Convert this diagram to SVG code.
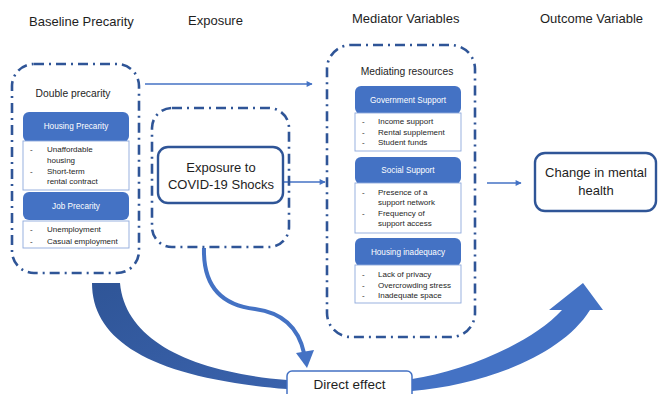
<svg xmlns="http://www.w3.org/2000/svg" width="658" height="394" viewBox="0 0 658 394">
<defs>
<style>
text{font-family:"Liberation Sans",Arial,sans-serif;fill:#1e1e1e}
.h{font-size:13px}
.dash{fill:none;stroke:#2F5597;stroke-width:2.6;stroke-dasharray:10 5 2 5}
.hdr{fill:#4472C4}
.hdrt{fill:#ffffff;font-size:8.2px;text-anchor:middle}
.lst{fill:#ffffff;stroke:#8EA9DB;stroke-width:0.9}
.li{font-size:8px}
.ttl{font-size:10.3px;text-anchor:middle}
.big{font-size:13px;text-anchor:middle}
.conn{stroke:#4472C4;stroke-width:1.3;fill:none}
</style>
<marker id="ah" viewBox="0 0 10 10" refX="9" refY="5" markerWidth="7" markerHeight="6" orient="auto" markerUnits="userSpaceOnUse">
<path d="M0,0 L10,5 L0,10 Z" fill="#4472C4"/>
</marker>
<linearGradient id="gl" x1="0" y1="0" x2="1" y2="1">
<stop offset="0" stop-color="#2F5597"/>
<stop offset="1" stop-color="#3A62AC"/>
</linearGradient>
</defs>
<rect width="658" height="394" fill="#ffffff"/>

<g id="headings">
<text class="h" x="29" y="25.5">Baseline Precarity</text>
<text class="h" x="188" y="25">Exposure</text>
<text class="h" x="352" y="22.5">Mediator Variables</text>
<text class="h" x="540" y="22.5">Outcome Variable</text>
</g>

<g id="connectors">
<line class="conn" x1="145" y1="84" x2="312" y2="84" marker-end="url(#ah)"/>
<line class="conn" x1="284" y1="182" x2="325" y2="182" marker-end="url(#ah)"/>
<line class="conn" x1="487" y1="183" x2="521" y2="183" marker-end="url(#ah)"/>
<path d="M92,283 C92,340 150,378 287,389 L287,380 C190,372 125,340 120,283 Z" fill="url(#gl)"/>
<path d="M204,248 C203,285 220,305 255,309 C285,313 299,330 304,353" fill="none" stroke="#4472C4" stroke-width="4"/>
<polygon points="307,368 296,353 314,350" fill="#4472C4"/>
<path d="M412,379 C460,372 530,345 562,310 L549,310 L583,283 L603,310 L590,310 C560,358 480,385 412,391 Z" fill="#4472C4"/>
</g>

<g id="baseline-precarity">
<rect class="dash" x="12" y="64" width="127" height="209" rx="22"/>
<text class="ttl" x="73" y="96.5">Double precarity</text>
<rect class="hdr" x="23" y="112" width="106" height="30" rx="6"/>
<text class="hdrt" x="76" y="129">Housing Precarity</text>
<rect class="lst" x="23" y="141" width="106" height="49"/>
<text class="li" x="30" y="152">-</text>
<text class="li" x="47" y="152">Unaffordable</text>
<text class="li" x="47" y="163">housing</text>
<text class="li" x="30" y="174">-</text>
<text class="li" x="47" y="174">Short-term</text>
<text class="li" x="47" y="184">rental contract</text>
<rect class="hdr" x="23" y="192" width="106" height="28" rx="6"/>
<text class="hdrt" x="76" y="209">Job Precarity</text>
<rect class="lst" x="23" y="221" width="106" height="27"/>
<text class="li" x="30" y="232">-</text>
<text class="li" x="47" y="232">Unemployment</text>
<text class="li" x="30" y="244">-</text>
<text class="li" x="47" y="244">Casual employment</text>
</g>

<g id="exposure">
<rect class="dash" x="152" y="108" width="137" height="139" rx="20"/>
<rect x="158" y="147" width="125" height="56" rx="10" fill="#ffffff" stroke="#2F5597" stroke-width="2.4"/>
<text class="big" x="221" y="171.5">Exposure to</text>
<text class="big" x="221" y="188.5">COVID-19 Shocks</text>
</g>

<g id="mediators">
<rect class="dash" x="327" y="45" width="148" height="292" rx="24"/>
<text class="ttl" x="407" y="74.5">Mediating resources</text>
<rect class="hdr" x="355" y="86" width="106" height="28" rx="6"/>
<text class="hdrt" x="408" y="103">Government Support</text>
<rect class="lst" x="355" y="113" width="106" height="38"/>
<text class="li" x="362" y="124">-</text>
<text class="li" x="378" y="124">Income support</text>
<text class="li" x="362" y="135">-</text>
<text class="li" x="378" y="135">Rental supplement</text>
<text class="li" x="362" y="145">-</text>
<text class="li" x="378" y="145">Student funds</text>
<rect class="hdr" x="355" y="157" width="106" height="27" rx="6"/>
<text class="hdrt" x="408" y="173">Social Support</text>
<rect class="lst" x="355" y="183" width="106" height="50"/>
<text class="li" x="362" y="195">-</text>
<text class="li" x="378" y="195">Presence of a</text>
<text class="li" x="378" y="205">support network</text>
<text class="li" x="362" y="216">-</text>
<text class="li" x="378" y="216">Frequency of</text>
<text class="li" x="378" y="226">support access</text>
<rect class="hdr" x="355" y="238" width="106" height="28" rx="6"/>
<text class="hdrt" x="408" y="255">Housing inadequacy</text>
<rect class="lst" x="355" y="265" width="106" height="38"/>
<text class="li" x="362" y="277">-</text>
<text class="li" x="378" y="277">Lack of privacy</text>
<text class="li" x="362" y="288">-</text>
<text class="li" x="378" y="288">Overcrowding stress</text>
<text class="li" x="362" y="298">-</text>
<text class="li" x="378" y="298">Inadequate space</text>
</g>

<g id="outcome">
<rect x="535" y="153" width="121" height="58" rx="10" fill="#ffffff" stroke="#2F5597" stroke-width="2.4"/>
<text class="big" x="596" y="176.5">Change in mental</text>
<text class="big" x="596" y="194.5">health</text>
</g>

<g id="direct-effect">
<rect x="287" y="371" width="125" height="30" rx="5" fill="#ffffff" stroke="#4472C4" stroke-width="1.5"/>
<text class="big" x="349.5" y="389" style="font-size:13.5px">Direct effect</text>
</g>
</svg>
